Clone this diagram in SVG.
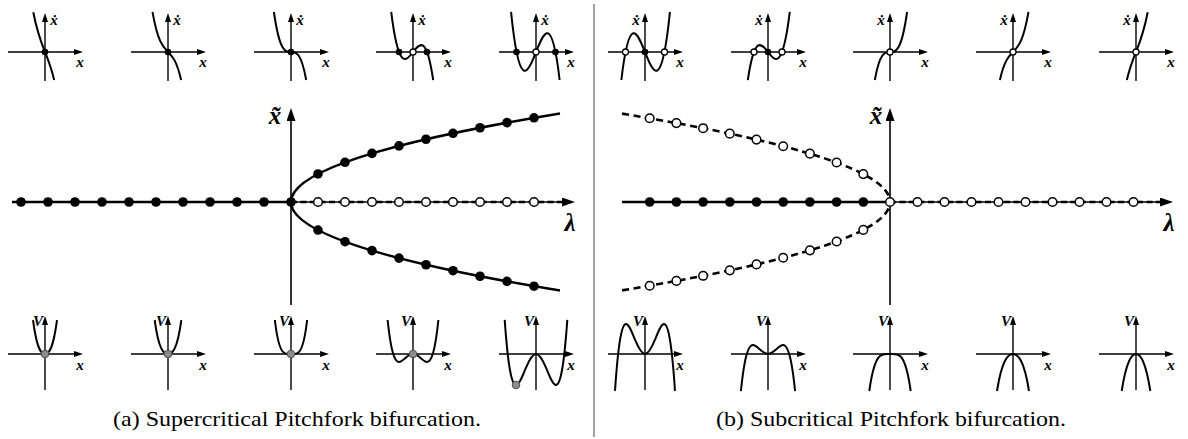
<svg xmlns="http://www.w3.org/2000/svg" xmlns:xlink="http://www.w3.org/1999/xlink" width="1188" height="439" viewBox="0 0 1188 439">
<style>
.ax{stroke:#000;stroke-width:1.4;fill:none}
.axm{stroke:#000;stroke-width:1.6;fill:none}
.cv{stroke:#000;stroke-width:2;fill:none}
.br{stroke:#000;stroke-width:2.6;fill:none}
.dash{stroke-dasharray:6 3.5}
.dash2{stroke-dasharray:7 4.5}
.fd{fill:#000}
.od{fill:#fff;stroke:#000;stroke-width:1.5}
.sod{fill:#fff;stroke:#000;stroke-width:1.3}
.gd{fill:#8c8c8c;stroke:#505050;stroke-width:1}
.lbl{font-family:"Liberation Serif","DejaVu Serif",serif;font-style:italic;font-weight:bold;font-size:15px;text-anchor:middle}
.big{font-family:"Liberation Serif","DejaVu Serif",serif;font-style:italic;font-weight:bold;font-size:25px;text-anchor:middle}
.cap{font-family:"Liberation Serif","DejaVu Serif",serif;font-size:22px;text-anchor:middle}
</style>
<defs>
<marker id="ah" markerUnits="userSpaceOnUse" markerWidth="9" markerHeight="6" refX="6" refY="3" orient="auto"><path d="M0,0 L9,3 L0,6 z" fill="#000"/></marker>
<marker id="AH" markerUnits="userSpaceOnUse" markerWidth="14" markerHeight="10" refX="9" refY="4.5" orient="auto"><path d="M0,0 L13,4.5 L0,9 z" fill="#000"/></marker>
<g id="axT"><line class="ax" x1="-37" y1="0" x2="35" y2="0" marker-end="url(#ah)"/><line class="ax" x1="0" y1="29" x2="0" y2="-36" marker-end="url(#ah)"/></g>
<g id="axB"><line class="ax" x1="-37" y1="0" x2="35" y2="0" marker-end="url(#ah)"/><line class="ax" x1="0" y1="36" x2="0" y2="-35" marker-end="url(#ah)"/></g>
</defs>
<rect width="1188" height="439" fill="#fff"/>

<!-- (a) top row: xdot vs x -->
<g id="top-a1" transform="translate(45,52)"><use href="#axT"/><path class="cv" d="M-11.7,-39.8 C-4.75,-3.61 2.2,-0.98 9.15,27.93"/><circle class="fd" cx="0" cy="0" r="3.3"/><text class="lbl" x="9" y="-27">ẋ</text><text class="lbl" x="35" y="15">x</text></g>
<g id="top-a2" transform="translate(168,52)"><use href="#axT"/><path class="cv" d="M-15.5,-40.1 C-5.97,14.78 3.57,-14.01 13.1,27.94"/><circle class="fd" cx="0" cy="0" r="3.3"/><text class="lbl" x="9" y="-27">ẋ</text><text class="lbl" x="35" y="15">x</text></g>
<g id="top-a3" transform="translate(291,52)"><use href="#axT"/><path class="cv" d="M-17.1,-40 C-6.34,35.51 4.42,-31.5 15.18,28"/><circle class="fd" cx="0" cy="0" r="3.3"/><text class="lbl" x="9" y="-27">ẋ</text><text class="lbl" x="35" y="15">x</text></g>
<g id="top-a4" transform="translate(413,52)"><use href="#axT"/><path class="cv" d="M-21.8,-40.04 C-7.8,73.5 6.2,-66.78 20.2,28.14"/><circle class="fd" cx="-14" cy="0" r="3.3"/><circle class="fd" cx="14" cy="0" r="3.3"/><circle class="sod" cx="0" cy="0" r="3"/><text class="lbl" x="9" y="-27">ẋ</text><text class="lbl" x="35" y="15">x</text></g>
<g id="top-a5" transform="translate(536,52)"><use href="#axT"/><path class="cv" d="M-24.95,-40.1 C-8.76,119.08 7.44,-110.61 23.63,28"/><circle class="fd" cx="-19.5" cy="0" r="3.3"/><circle class="fd" cx="19.5" cy="0" r="3.3"/><circle class="sod" cx="0" cy="0" r="3"/><text class="lbl" x="9" y="-27">ẋ</text><text class="lbl" x="35" y="15">x</text></g>

<!-- (b) top row -->
<g id="top-b1" transform="translate(645,52)"><use href="#axT"/><path class="cv" d="M24.95,-40.1 C8.76,119.08 -7.44,-110.61 -23.63,28"/><circle class="sod" cx="-19.5" cy="0" r="3"/><circle class="sod" cx="19.5" cy="0" r="3"/><circle class="fd" cx="0" cy="0" r="3.3"/><text class="lbl" x="-9" y="-27">ẋ</text><text class="lbl" x="35" y="15">x</text></g>
<g id="top-b2" transform="translate(768,52)"><use href="#axT"/><path class="cv" d="M21.8,-40.04 C7.8,73.5 -6.2,-66.78 -20.2,28.14"/><circle class="sod" cx="-14" cy="0" r="3"/><circle class="sod" cx="14" cy="0" r="3"/><circle class="fd" cx="0" cy="0" r="3.3"/><text class="lbl" x="-9" y="-27">ẋ</text><text class="lbl" x="35" y="15">x</text></g>
<g id="top-b3" transform="translate(890,52)"><use href="#axT"/><path class="cv" d="M17.1,-40 C6.34,35.51 -4.42,-31.5 -15.18,28"/><circle class="sod" cx="0" cy="0" r="3"/><text class="lbl" x="-9" y="-27">ẋ</text><text class="lbl" x="35" y="15">x</text></g>
<g id="top-b4" transform="translate(1013,52)"><use href="#axT"/><path class="cv" d="M15.5,-40.1 C5.97,14.78 -3.57,-14.01 -13.1,27.94"/><circle class="sod" cx="0" cy="0" r="3"/><text class="lbl" x="-9" y="-27">ẋ</text><text class="lbl" x="35" y="15">x</text></g>
<g id="top-b5" transform="translate(1136,52)"><use href="#axT"/><path class="cv" d="M11.7,-39.8 C4.75,-3.61 -2.2,-0.98 -9.15,27.93"/><circle class="sod" cx="0" cy="0" r="3"/><text class="lbl" x="-9" y="-27">ẋ</text><text class="lbl" x="35" y="15">x</text></g>

<!-- (a) bottom row: V vs x -->
<g id="bot-a1" transform="translate(45,354)"><use href="#axB"/><path class="cv" d="M-12,-33.98 C-8,-4.41 -4,0 0,0 C4,0 8,-4.41 12,-33.98"/><circle class="gd" cx="0" cy="0" r="3.8"/><text class="lbl" x="-7" y="-28">V</text><text class="lbl" x="35" y="16">x</text></g>
<g id="bot-a2" transform="translate(168,354)"><use href="#axB"/><path class="cv" d="M-13.3,-33.87 C-11.08,-17.37 -8.87,-9.87 -6.65,-5.53 C-4.43,-1.19 -2.22,0 0,0 C2.22,0 4.43,-1.19 6.65,-5.53 C8.87,-9.87 11.08,-17.37 13.3,-33.87"/><circle class="gd" cx="0" cy="0" r="3.8"/><text class="lbl" x="-7" y="-28">V</text><text class="lbl" x="35" y="16">x</text></g>
<g id="bot-a3" transform="translate(291,354)"><use href="#axB"/><path class="cv" d="M-16.15,-34 C-13.46,-11.32 -10.77,-4.96 -8.08,-2.13 C-5.38,0.71 -2.69,0 0,0 C2.69,0 5.38,0.71 8.08,-2.13 C10.77,-4.96 13.46,-11.32 16.15,-34"/><circle class="gd" cx="0" cy="0" r="3.8"/><text class="lbl" x="-7" y="-28">V</text><text class="lbl" x="35" y="16">x</text></g>
<g id="bot-a4" transform="translate(413,354)"><use href="#axB"/><path class="cv" d="M-25.4,-33.98 C-23.6,-16.89 -21.8,-6.77 -20,-0.66 C-18,6.13 -16,8 -14,8 C-11.67,8 -9.33,5.49 -7,3.5 C-4.67,1.5 -2.33,0 0,0 C2.33,0 4.67,1.5 7,3.5 C9.33,5.49 11.67,8 14,8 C16,8 18,6.13 20,-0.66 C21.8,-6.77 23.6,-16.89 25.4,-33.98"/><circle class="gd" cx="0" cy="0" r="3.8"/><text class="lbl" x="-7" y="-28">V</text><text class="lbl" x="35" y="16">x</text></g>
<g id="bot-a5" transform="translate(536,354)"><use href="#axB"/><path class="cv" d="M-31.3,-34.15 C-29.53,-9.27 -27.77,6.43 -26,16.27 C-24,27.41 -22,31.04 -20,31.04 C-16.67,31.04 -13.33,21.34 -10,13.58 C-6.67,5.82 -3.33,0 0,0 C3.33,0 6.67,5.82 10,13.58 C13.33,21.34 16.67,31.04 20,31.04 C22,31.04 24,27.41 26,16.27 C27.77,6.43 29.53,-9.27 31.3,-34.15"/><circle class="gd" cx="-20" cy="31" r="3.8"/><text class="lbl" x="-7" y="-28">V</text><text class="lbl" x="35" y="16">x</text></g>

<!-- (b) bottom row -->
<g id="bot-b1" transform="translate(645,354)"><use href="#axB"/><path class="cv" d="M-30,36.9 C-28.33,12.1 -26.67,-3.79 -25,-13.91 C-23,-26.06 -21,-29.95 -19,-29.95 C-16,-29.95 -13,-21.5 -10,-14.3 C-6.67,-6.3 -3.33,0 0,0 C3.33,0 6.67,-6.3 10,-14.3 C13,-21.5 16,-29.95 19,-29.95 C21,-29.95 23,-26.06 25,-13.91 C26.67,-3.79 28.33,12.1 30,36.9"/><text class="lbl" x="-7" y="-28">V</text><text class="lbl" x="35" y="16">x</text></g>
<g id="bot-b2" transform="translate(768,354)"><use href="#axB"/><path class="cv" d="M-27.1,37.15 C-25.13,17.85 -23.17,6.61 -21.2,-0.04 C-19.13,-7.03 -17.07,-9 -15,-9 C-12.67,-9 -10.33,-6.53 -8,-4.39 C-5.33,-1.95 -2.67,0 0,0 C2.67,0 5.33,-1.95 8,-4.39 C10.33,-6.53 12.67,-9 15,-9 C17.07,-9 19.13,-7.03 21.2,-0.04 C23.17,6.61 25.13,17.85 27.1,37.15"/><text class="lbl" x="-7" y="-28">V</text><text class="lbl" x="35" y="16">x</text></g>
<g id="bot-b3" transform="translate(890,354)"><use href="#axB"/><path class="cv" d="M-20.7,37 C-17.25,12.34 -13.8,5.4 -10.35,2.31 C-6.9,-0.77 -3.45,0 0,0 C3.45,0 6.9,-0.77 10.35,2.31 C13.8,5.4 17.25,12.34 20.7,37"/><text class="lbl" x="-7" y="-28">V</text><text class="lbl" x="35" y="16">x</text></g>
<g id="bot-b4" transform="translate(1013,354)"><use href="#axB"/><path class="cv" d="M-16,37.02 C-13.33,20.31 -10.67,11.88 -8,6.8 C-5.33,1.72 -2.67,0 0,0 C2.67,0 5.33,1.72 8,6.8 C10.67,11.88 13.33,20.31 16,37.02"/><text class="lbl" x="-7" y="-28">V</text><text class="lbl" x="35" y="16">x</text></g>
<g id="bot-b5" transform="translate(1136,354)"><use href="#axB"/><path class="cv" d="M-14.3,36.99 C-11.92,21.87 -9.53,13.15 -7.15,7.68 C-4.77,2.21 -2.38,0 0,0 C2.38,0 4.77,2.21 7.15,7.68 C9.53,13.15 11.92,21.87 14.3,36.99"/><text class="lbl" x="-7" y="-28">V</text><text class="lbl" x="35" y="16">x</text></g>

<!-- (a) main bifurcation diagram -->
<g id="main-a">
<line class="axm" x1="12" y1="202" x2="571" y2="202" marker-end="url(#AH)"/>
<line class="axm" x1="291" y1="305" x2="291" y2="112" marker-end="url(#AH)"/>
<line class="br" x1="12" y1="202" x2="291" y2="202"/>
<line class="br dash" x1="291" y1="202" x2="563" y2="202"/>
<path class="br" d="M291,202 Q291,157.72 560,113.44"/>
<path class="br" d="M291,202 Q291,246.28 560,290.56"/>
<g class="fd">
<circle cx="21" cy="202" r="4.8"/><circle cx="48" cy="202" r="4.8"/><circle cx="75" cy="202" r="4.8"/><circle cx="102" cy="202" r="4.8"/><circle cx="129" cy="202" r="4.8"/><circle cx="156" cy="202" r="4.8"/><circle cx="183" cy="202" r="4.8"/><circle cx="210" cy="202" r="4.8"/><circle cx="237" cy="202" r="4.8"/><circle cx="264" cy="202" r="4.8"/><circle cx="291" cy="202" r="4.8"/>
<circle cx="318" cy="173.94" r="4.8"/><circle cx="345" cy="162.32" r="4.8"/><circle cx="372" cy="153.4" r="4.8"/><circle cx="399" cy="145.88" r="4.8"/><circle cx="426" cy="139.26" r="4.8"/><circle cx="453" cy="133.27" r="4.8"/><circle cx="480" cy="127.76" r="4.8"/><circle cx="507" cy="122.63" r="4.8"/><circle cx="534" cy="117.82" r="4.8"/>
<circle cx="318" cy="230.06" r="4.8"/><circle cx="345" cy="241.68" r="4.8"/><circle cx="372" cy="250.6" r="4.8"/><circle cx="399" cy="258.12" r="4.8"/><circle cx="426" cy="264.74" r="4.8"/><circle cx="453" cy="270.73" r="4.8"/><circle cx="480" cy="276.24" r="4.8"/><circle cx="507" cy="281.37" r="4.8"/><circle cx="534" cy="286.18" r="4.8"/>
</g>
<g class="od">
<circle cx="318" cy="202" r="4.3"/><circle cx="345" cy="202" r="4.3"/><circle cx="372" cy="202" r="4.3"/><circle cx="399" cy="202" r="4.3"/><circle cx="426" cy="202" r="4.3"/><circle cx="453" cy="202" r="4.3"/><circle cx="480" cy="202" r="4.3"/><circle cx="507" cy="202" r="4.3"/><circle cx="534" cy="202" r="4.3"/>
</g>
<text class="big" x="275" y="124">x̃</text>
<text class="big" x="570" y="231">λ</text>
</g>

<!-- (b) main bifurcation diagram -->
<g id="main-b">
<line class="axm" x1="622" y1="202" x2="1169" y2="202" marker-end="url(#AH)"/>
<line class="axm" x1="890" y1="305" x2="890" y2="112" marker-end="url(#AH)"/>
<line class="br" x1="622" y1="202" x2="890" y2="202"/>
<line class="br dash" x1="890" y1="202" x2="1162" y2="202"/>
<path class="br dash2" d="M622,113.6 Q890,157.8 890,202"/>
<path class="br dash2" d="M622,290.4 Q890,246.2 890,202"/>
<g class="fd">
<circle cx="649.7" cy="202" r="4.8"/><circle cx="676.4" cy="202" r="4.8"/><circle cx="703.1" cy="202" r="4.8"/><circle cx="729.8" cy="202" r="4.8"/><circle cx="756.5" cy="202" r="4.8"/><circle cx="783.2" cy="202" r="4.8"/><circle cx="809.9" cy="202" r="4.8"/><circle cx="836.6" cy="202" r="4.8"/><circle cx="863.3" cy="202" r="4.8"/>
</g>
<g class="od">
<circle cx="890" cy="202" r="4.3"/>
<circle cx="917.5" cy="202" r="4.3"/><circle cx="944.5" cy="202" r="4.3"/><circle cx="971.5" cy="202" r="4.3"/><circle cx="998.5" cy="202" r="4.3"/><circle cx="1025.5" cy="202" r="4.3"/><circle cx="1052.5" cy="202" r="4.3"/><circle cx="1079.5" cy="202" r="4.3"/><circle cx="1106.5" cy="202" r="4.3"/><circle cx="1133.5" cy="202" r="4.3"/>
<circle cx="863.3" cy="174.1" r="4.3"/><circle cx="836.6" cy="162.54" r="4.3"/><circle cx="809.9" cy="153.67" r="4.3"/><circle cx="783.2" cy="146.2" r="4.3"/><circle cx="756.5" cy="139.61" r="4.3"/><circle cx="729.8" cy="133.65" r="4.3"/><circle cx="703.1" cy="128.18" r="4.3"/><circle cx="676.4" cy="123.08" r="4.3"/><circle cx="649.7" cy="118.29" r="4.3"/>
<circle cx="863.3" cy="229.9" r="4.3"/><circle cx="836.6" cy="241.46" r="4.3"/><circle cx="809.9" cy="250.33" r="4.3"/><circle cx="783.2" cy="257.8" r="4.3"/><circle cx="756.5" cy="264.39" r="4.3"/><circle cx="729.8" cy="270.35" r="4.3"/><circle cx="703.1" cy="275.82" r="4.3"/><circle cx="676.4" cy="280.92" r="4.3"/><circle cx="649.7" cy="285.71" r="4.3"/>
</g>
<text class="big" x="876" y="124">x̃</text>
<text class="big" x="1169" y="231">λ</text>
</g>

<g id="divider"><line x1="594" y1="4" x2="594" y2="437" stroke="#444" stroke-width="1"/></g>

<g id="captions">
<text class="cap" x="297" y="426" textLength="368" lengthAdjust="spacingAndGlyphs">(a) Supercritical Pitchfork bifurcation.</text>
<text class="cap" x="891" y="426" textLength="350" lengthAdjust="spacingAndGlyphs">(b) Subcritical Pitchfork bifurcation.</text>
</g>
</svg>
